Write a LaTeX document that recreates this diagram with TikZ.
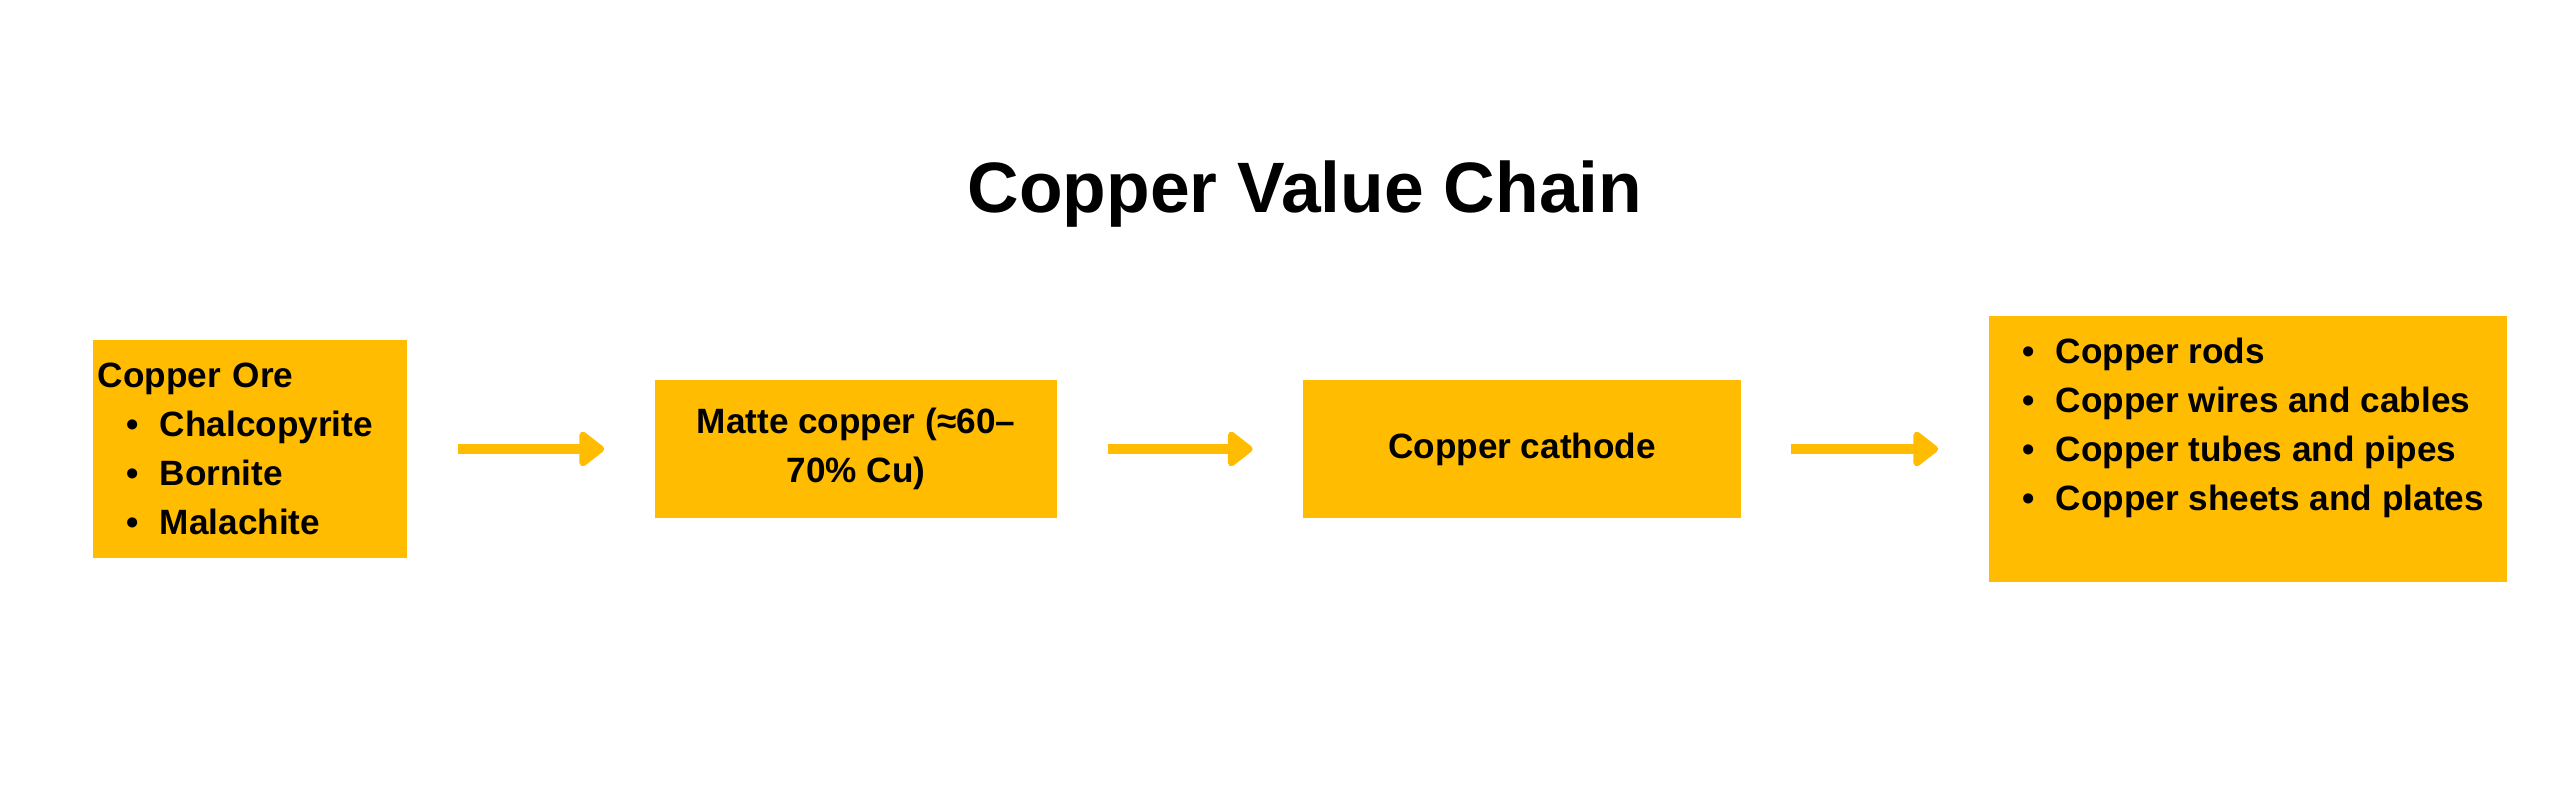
\documentclass[tikz,border=0pt]{standalone}
\usepackage{fontspec}
\setmainfont{Liberation Sans}
\usetikzlibrary{arrows.meta,positioning}
\definecolor{amber}{HTML}{FFBC00}
\newcommand{\bul}[1]{\makebox[0.33cm][l]{\textbullet}#1}
\tikzset{
  stage/.style={fill=amber, inner sep=0pt, align=center,
    font=\bfseries\fontsize{10}{13.95}\selectfont},
  flow/.style={draw=amber, line width=0.1cm, shorten <=0.5cm, shorten >=0.5cm,
    -{Triangle[length=0.27cm,width=0.4cm,round]}}
}
\begin{document}
\begin{tikzpicture}[x=0.01cm,y=-0.01cm]
\useasboundingbox (0,0) rectangle (2560,795);

\node[anchor=base,font=\bfseries\fontsize{20.3}{24}\selectfont] (title) at (1305,213) {Copper Value Chain};

\node[stage,minimum width=3.14cm,minimum height=2.17cm,text width=3.04cm,align=left] (ore) at (250,449)
  {Copper Ore\\\hspace*{0.29cm}\bul{Chalcopyrite}\\\hspace*{0.29cm}\bul{Bornite}\\\hspace*{0.29cm}\bul{Malachite}};
\node[stage,minimum width=4.02cm,minimum height=1.38cm] (matte) at (856,449) {Matte copper (≈60–\\70\% Cu)};
\node[stage,minimum width=4.37cm,minimum height=1.37cm] (cathode) at (1522,449) {Copper cathode};
\node[stage,minimum width=5.18cm,minimum height=2.66cm] (prods) at (2248,449) {};
\node[stage,align=left,anchor=north west,below right=0.22cm and 0.34cm of prods.north west] (prodsList)
  {\bul{Copper rods}\\\bul{Copper wires and cables}\\\bul{Copper tubes and pipes}\\\bul{Copper sheets and plates}};

\draw[flow] (ore) -- (matte);
\draw[flow] (matte) -- (cathode);
\draw[flow] (cathode) -- (prods);

\end{tikzpicture}
\end{document}
